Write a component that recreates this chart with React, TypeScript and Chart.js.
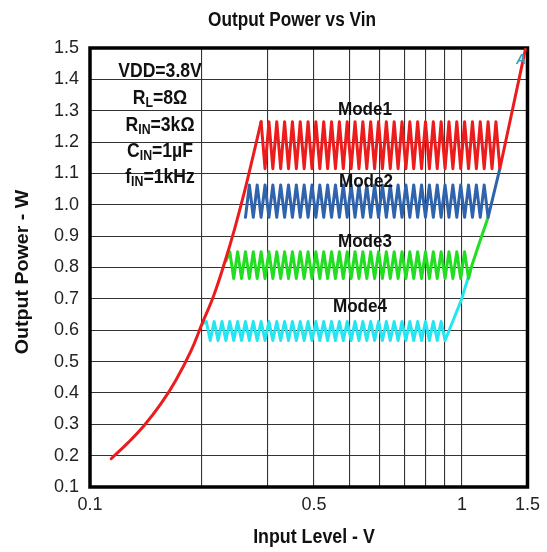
import { useEffect, useRef } from "react";
import { Chart, registerables } from "chart.js";

Chart.register(...registerables);

const FONT = '"Liberation Sans", Arial, Helvetica, sans-serif';

// ---- axes ----
const xGridValues = [0.1, 0.2, 0.3, 0.4, 0.5, 0.6, 0.7, 0.8, 0.9, 1, 1.5];
const xTickLabels = ["0.1", "", "", "0.5", "", "", "", "", "", "1", "1.5"];
const yTickValues = [0.1, 0.2, 0.3, 0.4, 0.5, 0.6, 0.7, 0.8, 0.9, 1.0, 1.1, 1.2, 1.3, 1.4, 1.5];

// ---- main (unclipped) red curve, lower part ----
const mainCurveX = [0.114, 0.127, 0.14, 0.155, 0.17, 0.187, 0.2, 0.215, 0.23, 0.245, 0.26, 0.275, 0.2884];
const mainCurveY = [0.19, 0.243, 0.297, 0.365, 0.44, 0.535, 0.62, 0.71, 0.815, 0.925, 1.04, 1.16, 1.265];

// ---- x positions (V) of the ripple vertices ----
const toothX = [
  0.20053, 0.20545, 0.21049, 0.21565, 0.22094, 0.22635, 0.2319, 0.23759, 0.24342, 0.24939,
  0.2555, 0.26177, 0.26818, 0.27476, 0.2815, 0.2884, 0.29547, 0.30272, 0.31014, 0.31775,
  0.32554, 0.33352, 0.3417, 0.35008, 0.35866, 0.36746, 0.37647, 0.3857, 0.39515, 0.40484,
  0.41477, 0.42494, 0.43536, 0.44604, 0.45697, 0.46818, 0.47966, 0.49142, 0.50347, 0.51582,
  0.52847, 0.54143, 0.5547, 0.5683, 0.58224, 0.59652, 0.61114, 0.62613, 0.64148, 0.65721,
  0.67333, 0.68984, 0.70675, 0.72408, 0.74184, 0.76003, 0.77867, 0.79776, 0.81732, 0.83736,
  0.8579, 0.87893, 0.90049, 0.92257, 0.94519, 0.96837, 0.99211, 1.01644, 1.04136, 1.0669,
  1.09306, 1.11987, 1.14733, 1.17546, 1.20428, 1.23381, 1.26407,
];

// ---- modes ----
const modeNames = ["Mode1", "Mode2", "Mode3", "Mode4"];
const modeColors = ["#ec1c1c", "#2f64ad", "#22dd22", "#25e6f0"];
const modeHigh = [1.265, 1.063, 0.85, 0.628];
const modeLow = [1.115, 0.96, 0.765, 0.567];
const modeToothFrom = [15, 11, 7, 1];
const modeToothTo = [76, 73, 68, 62];
const modeStartsHigh = [true, false, true, true];
const modeLeadX = [[], [], [0.2319], [0.20053]];
const modeLeadY = [[], [], [0.82], [0.62]];
const modeTailX = [[1.48], [1.26407], [1.059, 1.1, 1.17546], [0.9957, 1.059]];
const modeTailY = [[1.495], [1.115], [0.8, 0.86, 0.96], [0.696, 0.8]];

// ---- text ----
const titleText = "Output Power vs Vin";
const xTitleText = "Input Level - V";
const yTitleText = "Output Power - W";
const conditionLines: [string, boolean][][] = [
  [["VDD=3.8V", false]],
  [["R", false], ["L", true], ["=8Ω", false]],
  [["R", false], ["IN", true], ["=3kΩ", false]],
  [["C", false], ["IN", true], ["=1µF", false]],
  [["f", false], ["IN", true], ["=1kHz", false]],
];

function buildModePoints(m: number) {
  const pts: { x: number; y: number }[] = [];
  modeLeadX[m].forEach((x, i) => pts.push({ x, y: modeLeadY[m][i] }));
  for (let i = modeToothFrom[m]; i <= modeToothTo[m]; i++) {
    const even = (i - modeToothFrom[m]) % 2 === 0;
    const high = even === modeStartsHigh[m];
    pts.push({ x: toothX[i], y: high ? modeHigh[m] : modeLow[m] });
  }
  modeTailX[m].forEach((x, i) => pts.push({ x, y: modeTailY[m][i] }));
  return pts;
}

function drawScaled(
  ctx: CanvasRenderingContext2D,
  text: string,
  x: number,
  y: number,
  size: number,
  sx: number,
  bold = true
) {
  ctx.save();
  ctx.font = `${bold ? "bold " : ""}${size}px ${FONT}`;
  ctx.translate(x, y);
  ctx.scale(sx, 1);
  ctx.textAlign = "center";
  ctx.textBaseline = "alphabetic";
  ctx.fillText(text, 0, 0);
  ctx.restore();
}

const decorPlugin = {
  id: "decor",
  beforeDatasetsDraw(chart: any) {
    const { ctx, chartArea: a } = chart;
    ctx.save();
    ctx.strokeStyle = "#000";
    ctx.lineWidth = 3.5;
    ctx.strokeRect(a.left, a.top, a.right - a.left, a.bottom - a.top);
    ctx.restore();
  },
  afterDatasetsDraw(chart: any) {
    const { ctx } = chart;
    ctx.save();
    ctx.fillStyle = "#111";
    const modePos = [
      [365, 115],
      [366, 187],
      [365, 247],
      [360, 312],
    ];
    modeNames.forEach((n, i) => drawScaled(ctx, n, modePos[i][0], modePos[i][1], 19, 0.9));

    const cx = 160;
    const baselines = [77, 104, 131, 157, 183];
    const sx = 0.88;
    conditionLines.forEach((parts, li) => {
      let total = 0;
      const widths = parts.map(([t, sub]) => {
        ctx.font = `bold ${sub ? 14 : 20}px ${FONT}`;
        const w = ctx.measureText(t).width * sx;
        total += w;
        return w;
      });
      let x = cx - total / 2;
      parts.forEach(([t, sub], pi) => {
        ctx.save();
        ctx.font = `bold ${sub ? 14 : 20}px ${FONT}`;
        ctx.translate(x, baselines[li] + (sub ? 3 : 0));
        ctx.scale(sx, 1);
        ctx.textAlign = "left";
        ctx.fillText(t, 0, 0);
        ctx.restore();
        x += widths[pi];
      });
    });

    const a = chart.chartArea;
    ctx.save();
    ctx.beginPath();
    ctx.rect(a.left, a.top, a.right - a.left, a.bottom - a.top);
    ctx.clip();
    ctx.fillStyle = "#3f9cc4";
    ctx.font = `italic bold 14px ${FONT}`;
    ctx.textAlign = "left";
    ctx.fillText("A", 516, 64);
    ctx.restore();
    ctx.restore();
  },
  afterDraw(chart: any) {
    const { ctx } = chart;
    ctx.save();
    ctx.fillStyle = "#111";
    drawScaled(ctx, titleText, 292, 26, 20, 0.86);
    drawScaled(ctx, xTitleText, 314, 543, 20, 0.89);
    ctx.save();
    ctx.font = `bold 20px ${FONT}`;
    ctx.translate(28, 272);
    ctx.rotate(-Math.PI / 2);
    ctx.scale(0.98, 0.88);
    ctx.textAlign = "center";
    ctx.textBaseline = "alphabetic";
    ctx.fillText(yTitleText, 0, 0);
    ctx.restore();
    ctx.restore();
  },
};

export default function App() {
  const ref = useRef<HTMLCanvasElement | null>(null);

  useEffect(() => {
    if (!ref.current) return;
    const common = {
      borderWidth: 3,
      pointRadius: 0,
      fill: false,
      borderJoinStyle: "round" as const,
      borderCapStyle: "round" as const,
    };
    const datasets: any[] = modeNames.map((name, m) => ({
      ...common,
      label: name,
      data: buildModePoints(m),
      borderColor: modeColors[m],
      backgroundColor: modeColors[m],
      tension: 0,
    }));
    datasets.splice(1, 0, {
      ...common,
      label: "Mode1 rise",
      data: mainCurveX.map((x, i) => ({ x, y: mainCurveY[i] })),
      borderColor: modeColors[0],
      backgroundColor: modeColors[0],
      tension: 0.4,
    });

    const chart = new Chart(ref.current, {
      type: "line",
      data: { datasets },
      plugins: [decorPlugin],
      options: {
        animation: false,
        responsive: true,
        maintainAspectRatio: false,
        parsing: false as any,
        normalized: true,
        layout: { padding: { top: 48, right: 18, bottom: 0, left: 0 } },
        plugins: {
          legend: { display: false },
          title: { display: false },
          tooltip: { enabled: false },
        },
        scales: {
          x: {
            type: "logarithmic",
            min: 0.1,
            max: 1.5,
            afterBuildTicks: (s: any) => {
              s.ticks = xGridValues.map((v) => ({ value: v }));
            },
            afterFit: (s: any) => {
              s.height = 65;
            },
            ticks: {
              autoSkip: false,
              maxRotation: 0,
              minRotation: 0,
              padding: 7,
              color: "#222",
              font: { size: 18, family: FONT },
              callback: (_v: any, i: number) => xTickLabels[i] ?? "",
            },
            grid: { color: "#333", lineWidth: 1.1, drawTicks: false },
            border: { display: false },
          },
          y: {
            type: "linear",
            min: 0.1,
            max: 1.5,
            afterBuildTicks: (s: any) => {
              s.ticks = yTickValues.map((v) => ({ value: v }));
            },
            afterFit: (s: any) => {
              s.width = 90;
            },
            ticks: {
              padding: 11,
              color: "#222",
              font: { size: 18, family: FONT },
              callback: (v: any) => Number(v).toFixed(1),
            },
            grid: { color: "#333", lineWidth: 1.1, drawTicks: false },
            border: { display: false },
          },
        },
      },
    });
    return () => chart.destroy();
  }, []);

  return (
    <div style={{ position: "fixed", left: 0, top: 0, width: 547, height: 552, background: "#fff" }}>
      <canvas ref={ref} />
    </div>
  );
}
